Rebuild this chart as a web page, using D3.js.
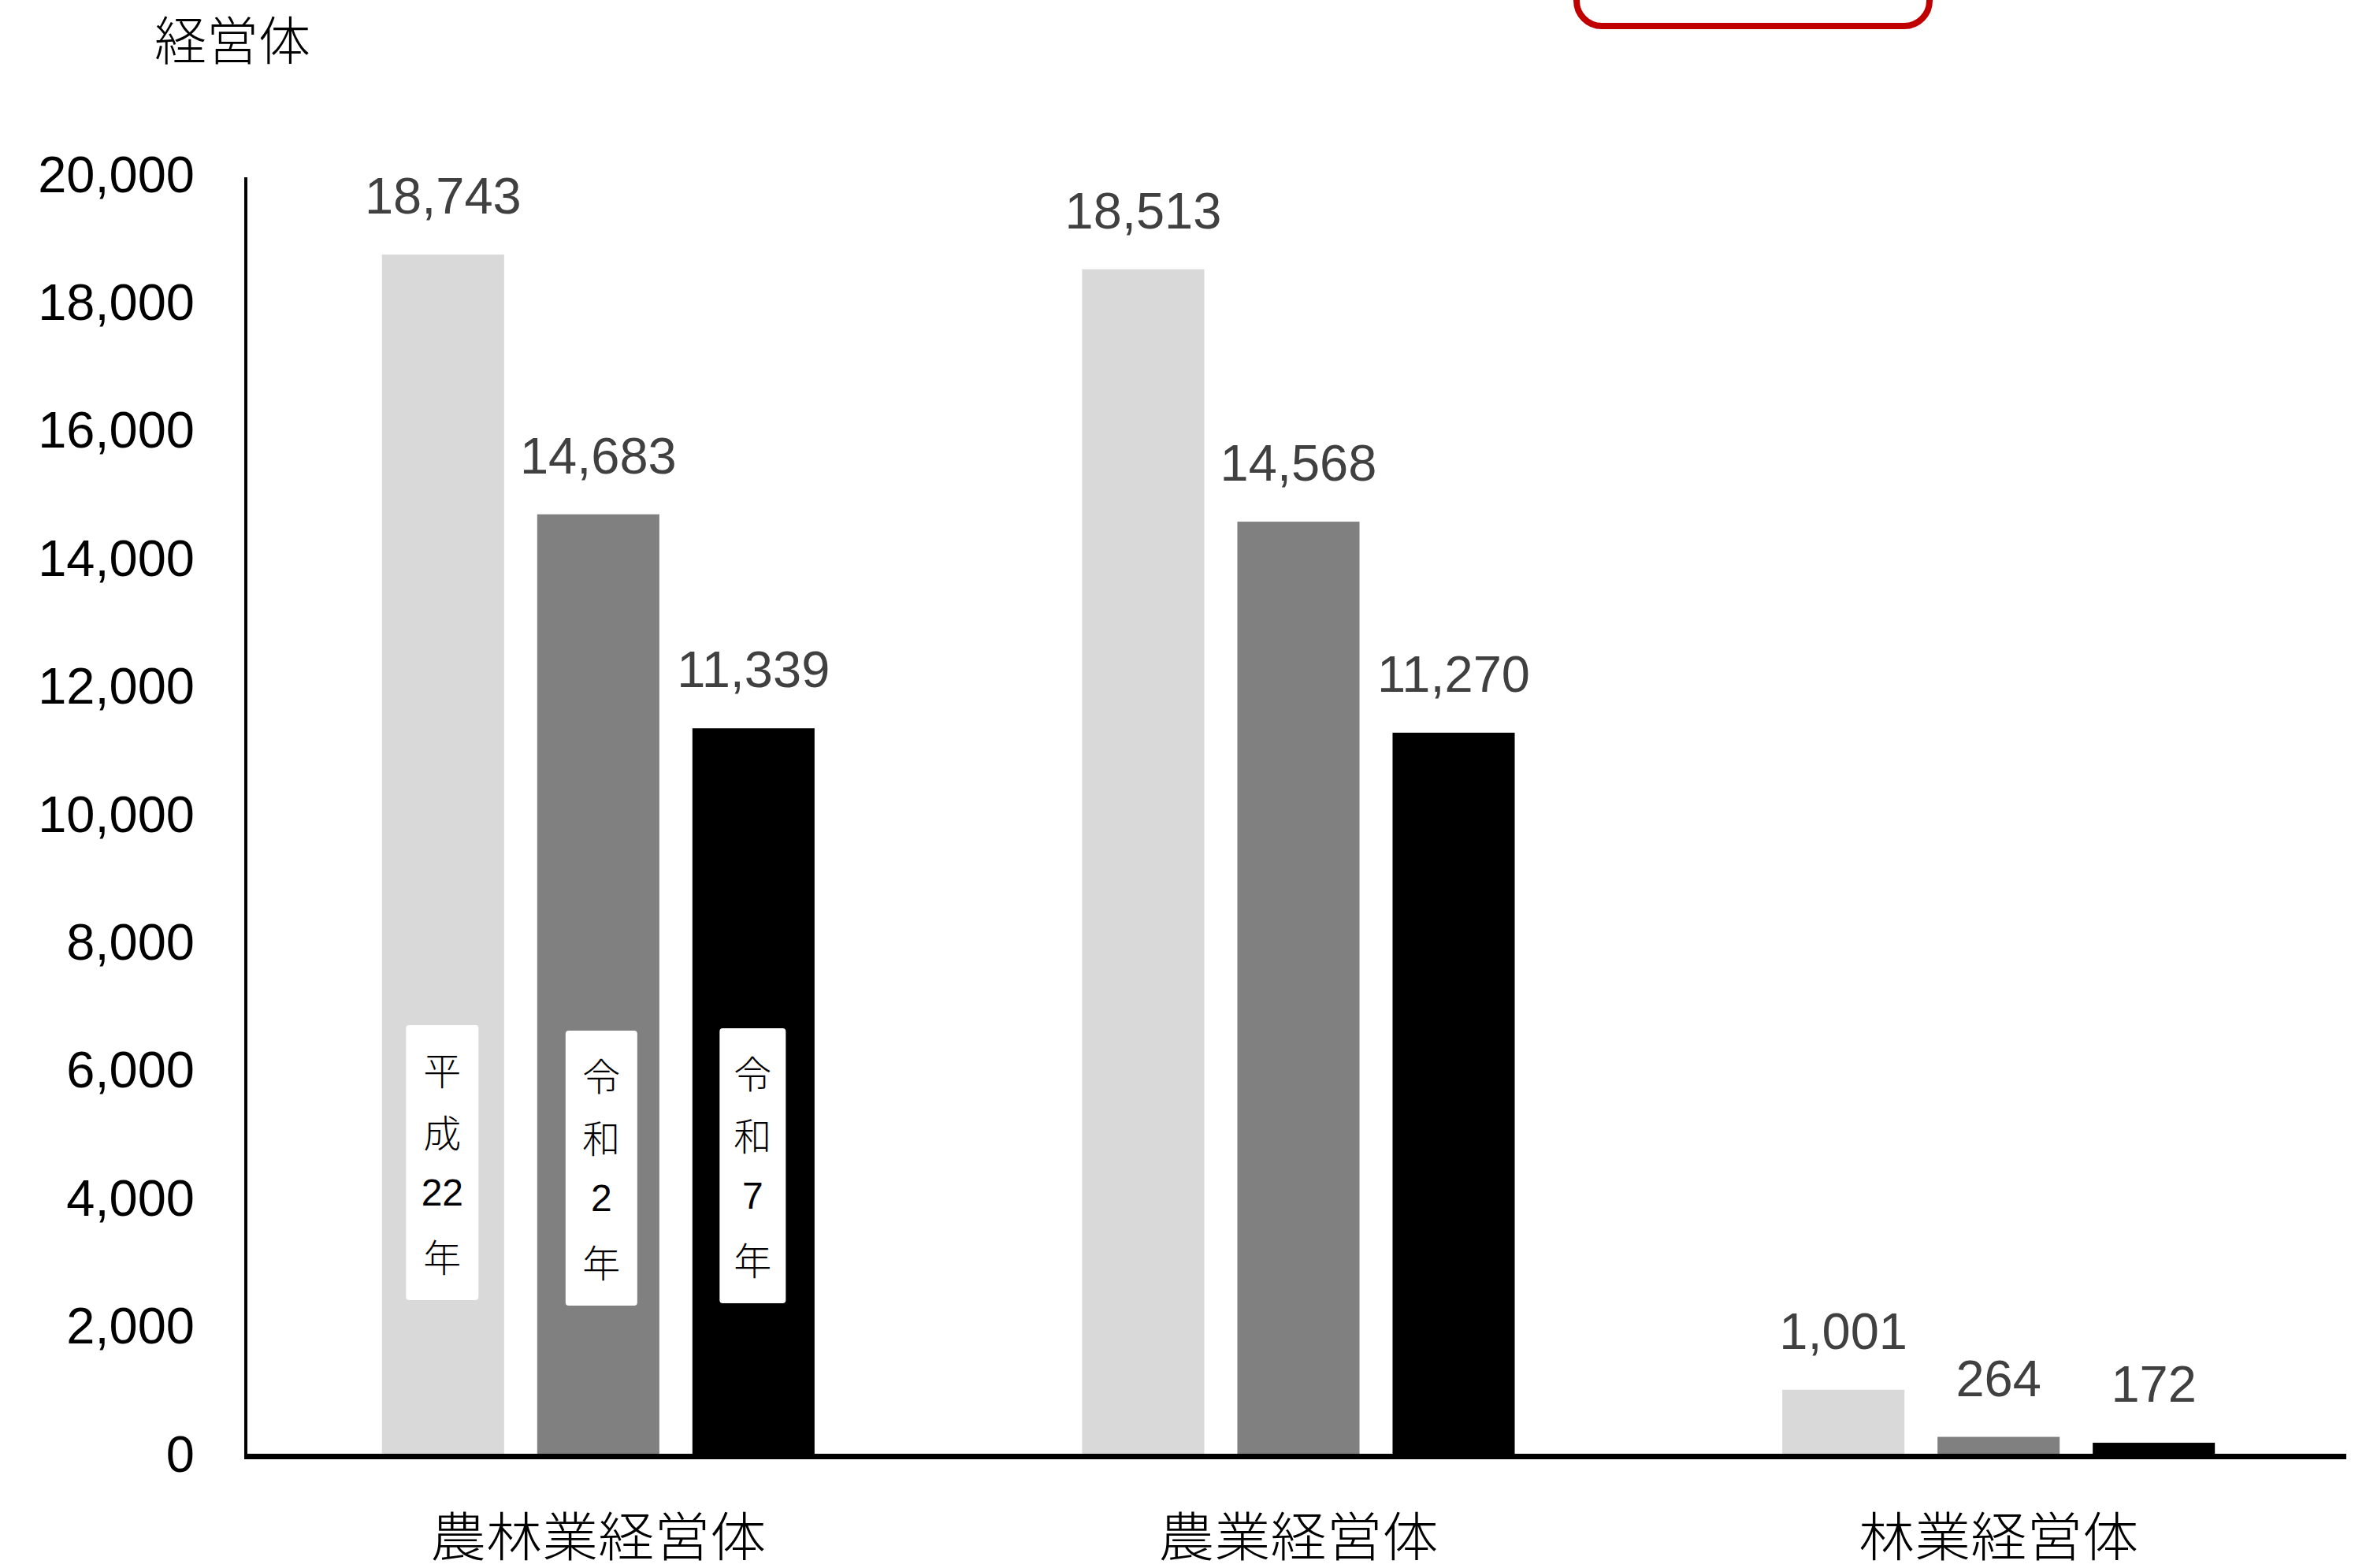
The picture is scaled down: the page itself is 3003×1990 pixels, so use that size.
<!DOCTYPE html>
<html>
<head>
<meta charset="utf-8">
<script src="https://cdn.jsdelivr.net/npm/d3@7"></script>
<style>
  body { margin: 0; background: #fff; }
</style>
</head>
<body>
<div id="chart"></div>
<script>
// categories on the x axis
const categories = ['農林業経営体', '農業経営体', '林業経営体'];
// series (survey years), one bar each per category
const seriesNames = ['平成22年', '令和2年', '令和7年'];
const seriesLabelChars = [
  ['平', '成', '22', '年'],
  ['令', '和', '2', '年'],
  ['令', '和', '7', '年']
];
// values[category][series]
const values = [
  [18743, 14683, 11339],
  [18513, 14568, 11270],
  [1001, 264, 172]
];
const yTicks = [0, 2000, 4000, 6000, 8000, 10000, 12000, 14000, 16000, 18000, 20000];
const yMax = 20000;

const W = 3003, H = 1990;
const numFont = '"Liberation Sans", Arial, sans-serif';
const cjkFont = '"Noto Sans CJK JP", "Noto Sans", sans-serif';
const colors = ['#d9d9d9', '#808080', '#000000'];

const svg = d3.select('#chart').append('svg')
  .attr('width', W).attr('height', H)
  .attr('viewBox', `0 0 ${W} ${H}`);

svg.append('rect').attr('width', W).attr('height', H).attr('fill', '#fff');

const axisX = 312, axisRight = 2978;

const x0 = d3.scaleBand().domain(categories).range([315, 2981]).padding(0);
const x1 = d3.scaleBand().domain(seriesNames).range([0, x0.bandwidth()])
  .paddingInner(0.213).paddingOuter(0.862);
const y = d3.scaleLinear().domain([0, yMax]).range([1845, 221]);

// red rounded frame cut off at the top
svg.append('rect')
  .attr('x', 2001).attr('y', -100)
  .attr('width', 448).attr('height', 133)
  .attr('rx', 32)
  .attr('fill', 'none')
  .attr('stroke', '#c00000')
  .attr('stroke-width', 8);

// y axis title
svg.append('text')
  .attr('x', 295).attr('y', 47)
  .attr('text-anchor', 'middle')
  .attr('dominant-baseline', 'central')
  .attr('font-family', cjkFont)
  .attr('font-weight', 300)
  .attr('font-size', 66)
  .attr('fill', '#000')
  .text('経営体');

// y tick labels
svg.selectAll('.ytick').data(yTicks)
  .join('text')
  .attr('class', 'ytick')
  .attr('x', 247)
  .attr('y', d => y(d))
  .attr('text-anchor', 'end')
  .attr('dominant-baseline', 'central')
  .attr('font-family', numFont)
  .attr('font-size', 65)
  .attr('fill', '#000')
  .text(d => d3.format(',')(d));

// bars
const groups = svg.selectAll('.cat').data(categories)
  .join('g')
  .attr('class', 'cat')
  .attr('transform', d => `translate(${x0(d)},0)`);

groups.selectAll('rect')
  .data((d, i) => values[i].map((v, j) => ({ v, s: seriesNames[j], j })))
  .join('rect')
  .attr('x', d => x1(d.s))
  .attr('y', d => y(d.v))
  .attr('width', x1.bandwidth())
  .attr('height', d => y(0) - y(d.v))
  .attr('fill', d => colors[d.j]);

// value labels
groups.selectAll('.val')
  .data((d, i) => values[i].map((v, j) => ({ v, s: seriesNames[j], j })))
  .join('text')
  .attr('class', 'val')
  .attr('x', d => x1(d.s) + x1.bandwidth() / 2)
  .attr('y', d => y(d.v) - 52)
  .attr('text-anchor', 'middle')
  .attr('font-family', numFont)
  .attr('font-size', 65)
  .attr('fill', '#404040')
  .text(d => d3.format(',')(d.v));

// axes lines
svg.append('line')
  .attr('x1', axisX).attr('x2', axisX)
  .attr('y1', y(yMax) + 4).attr('y2', y(0) + 7)
  .attr('stroke', '#000').attr('stroke-width', 4);
svg.append('line')
  .attr('x1', axisX - 2).attr('x2', axisRight)
  .attr('y1', y(0) + 3.5).attr('y2', y(0) + 3.5)
  .attr('stroke', '#000').attr('stroke-width', 7);

// category labels (slightly widened like the original face)
svg.selectAll('.cat-label').data(categories)
  .join('text')
  .attr('class', 'cat-label')
  .attr('transform', d => `translate(${x0(d) + x0.bandwidth() / 2},1946) scale(1.06,1)`)
  .attr('text-anchor', 'middle')
  .attr('dominant-baseline', 'central')
  .attr('font-family', cjkFont)
  .attr('font-weight', 300)
  .attr('font-size', 67)
  .attr('fill', '#000')
  .text(d => d);

// year labels in white boxes on the first group's bars
const boxW = [92, 91, 84];
const boxDx = [-1, 4, -1];
const boxDy = [0, 7, 4];
const firstCat = categories[0];
const leg = svg.selectAll('.yr').data(seriesNames)
  .join('g')
  .attr('class', 'yr')
  .attr('transform', (d, j) => `translate(${x0(firstCat) + x1(d) + x1.bandwidth() / 2 + boxDx[j]},${y(6700) + boxDy[j]})`);

leg.append('rect')
  .attr('x', (d, j) => -boxW[j] / 2)
  .attr('y', 0)
  .attr('width', (d, j) => boxW[j])
  .attr('height', 349)
  .attr('rx', 4)
  .attr('fill', '#fff');

leg.selectAll('text')
  .data((d, j) => seriesLabelChars[j])
  .join('text')
  .attr('x', 0)
  .attr('y', (c, k) => 55 + k * 79)
  .attr('text-anchor', 'middle')
  .attr('dominant-baseline', 'central')
  .attr('font-family', c => /\d/.test(c) ? numFont : cjkFont)
  .attr('font-weight', 300)
  .attr('font-size', 48)
  .attr('fill', '#000')
  .text(c => c);
</script>
</body>
</html>
